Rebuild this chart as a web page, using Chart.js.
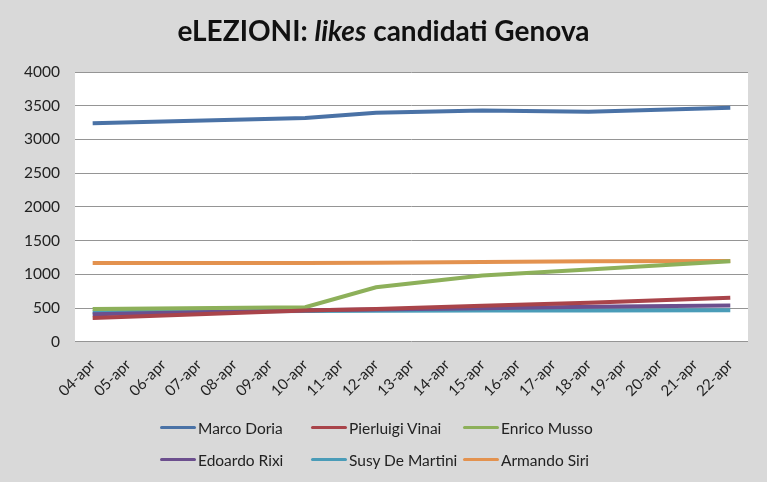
<!DOCTYPE html>
<html>
<head>
<meta charset="utf-8">
<script src="https://cdn.jsdelivr.net/npm/chart.js@4/dist/chart.umd.min.js"></script>
<style>
    body { margin: 0; background: #d9d9d9; }
    #wrap { position: relative; width: 767px; height: 482px; background: #d9d9d9; }
    #title {
        position: absolute; left: 0; top: 13px; width: 767px;
        text-align: center; font: bold 28px Lato, sans-serif; color: #111;
    }
    #legend {
        position: absolute; left: 160px; top: 416px;
        display: grid; grid-template-columns: 151px 152px 160px; row-gap: 9px;
        font: 15.5px Lato, sans-serif; color: #222;
    }
    .item { display: flex; align-items: center; height: 23px; white-space: nowrap; }
    .swatch { width: 36px; height: 3px; margin-right: 2px; border-radius: 2px; }
</style>
</head>
<body>
<div id="wrap">
    <div id="title">eLEZIONI: <i>likes</i> candidati Genova</div>
    <canvas id="chart" width="767" height="482"></canvas>
    <div id="legend"></div>
</div>
<script>
// date labels
const labels = ['04-apr', '05-apr', '06-apr', '07-apr', '08-apr', '09-apr', '10-apr',
    '11-apr', '12-apr', '13-apr', '14-apr', '15-apr', '16-apr', '17-apr', '18-apr',
    '19-apr', '20-apr', '21-apr', '22-apr'];

// likes per candidate (null = no reading that day)
const marcoDoria     = [3240, null, null, null, null, null, 3320, null, 3395, null, null, 3430, null, null, 3410, null, null, null, 3470];
const pierluigiVinai = [355,  null, null, null, null, null, 465,  null, 490,  null, null, 535,  null, null, 580,  null, null, null, 655];
const enricoMusso    = [490,  null, null, null, null, null, 515,  null, 810,  null, null, 985,  null, null, 1075, null, null, null, 1195];
const edoardoRixi    = [410,  null, null, null, null, null, 470,  null, 480,  null, null, 500,  null, null, 520,  null, null, null, 540];
const susyDeMartini  = [440,  null, null, null, null, null, 460,  null, 462,  null, null, 465,  null, null, 467,  null, null, null, 470];
const armandoSiri    = [1170, null, null, null, null, null, 1170, null, 1175, null, null, 1185, null, null, 1195, null, null, null, 1200];

const names = ['Marco Doria', 'Pierluigi Vinai', 'Enrico Musso', 'Edoardo Rixi', 'Susy De Martini', 'Armando Siri'];
const series = [marcoDoria, pierluigiVinai, enricoMusso, edoardoRixi, susyDeMartini, armandoSiri];
const colors = ['#4a72a6', '#a9444a', '#8db05a', '#6c4f8e', '#4a9cb8', '#e3924f'];

const datasets = series.map((data, i) => ({
    label: names[i],
    data: data,
    borderColor: colors[i],
    backgroundColor: colors[i],
    borderWidth: 4,
    pointRadius: 0,
    spanGaps: true,
    tension: 0
}));

// html legend, laid out in 3 columns like the original
const legend = document.getElementById('legend');
names.forEach((name, i) => {
    const item = document.createElement('div');
    item.className = 'item';
    item.innerHTML = `<span class="swatch" style="background:${colors[i]}"></span><span>${name}</span>`;
    legend.appendChild(item);
});

new Chart(document.getElementById('chart'), {
    type: 'line',
    data: { labels: labels, datasets: datasets },
    options: {
        responsive: false,
        animation: false,
        layout: { padding: { top: 72, left: 9, right: 19, bottom: 76 } },
        plugins: {
            legend: { display: false },
            tooltip: { enabled: false }
        },
        scales: {
            x: {
                offset: true,
                grid: { display: false },
                border: { display: false },
                ticks: {
                    minRotation: 45, maxRotation: 45, padding: 6,
                    color: '#222', font: { family: 'Lato', size: 15 }
                }
            },
            y: {
                min: 0, max: 4000,
                grid: { color: '#959595', drawTicks: false },
                border: { display: false },
                ticks: {
                    stepSize: 500, padding: 15,
                    color: '#222', font: { family: 'Lato', size: 15.5 },
                    callback: v => String(v)
                }
            }
        }
    },
    plugins: [{
        id: 'plotBg',
        beforeDraw(chart) {
            const { ctx, chartArea: a } = chart;
            ctx.save();
            ctx.fillStyle = '#ffffff';
            ctx.fillRect(a.left, a.top, a.right - a.left, a.bottom - a.top);
            ctx.restore();
        }
    }]
});
</script>
</body>
</html>
